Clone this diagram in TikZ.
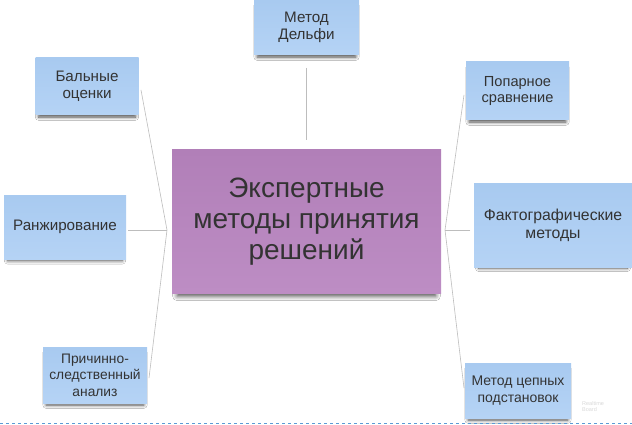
\documentclass[tikz,border=0pt]{standalone}
\usepackage{fontspec}
\setmainfont{Liberation Sans}
\usetikzlibrary{shadows.blur}
\definecolor{stickblue}{HTML}{A8CAF0}
\definecolor{stickblue2}{HTML}{B5D3F5}
\definecolor{stickpurple}{HTML}{B17FB8}
\definecolor{stickpurple2}{HTML}{BD8DC4}
\definecolor{txtgray}{HTML}{333333}
\definecolor{linegray}{HTML}{BDBDBD}
\definecolor{dashblue}{HTML}{5B9BD5}
\tikzset{
  stick/.style={rectangle, inner sep=0pt, align=center, text=txtgray,
    top color=stickblue, bottom color=stickblue2,
    font=\fontsize{15.2}{17.2}\selectfont,
    blur shadow={shadow xshift=0pt, shadow yshift=-4pt, shadow scale=0.94, shadow opacity=70, shadow blur radius=3.5pt, shadow blur steps=6}},
  central/.style={rectangle, inner sep=0pt, align=center, text=txtgray,
    top color=stickpurple, bottom color=stickpurple2,
    font=\fontsize{28}{31}\selectfont,
    blur shadow={shadow xshift=0pt, shadow yshift=-6pt, shadow scale=0.96, shadow opacity=75, shadow blur radius=5pt, shadow blur steps=7}},
  conn/.style={draw=linegray, line width=0.6pt}
}
\begin{document}
\begin{tikzpicture}[x=1pt,y=-1pt]
\useasboundingbox (0,0) rectangle (632,425);
\fill[white] (0,0) rectangle (632,425);
% connectors
\coordinate (lh) at (167,230);
\coordinate (rh) at (445,230);
\coordinate (ctop) at (306,140);
\coordinate (dbot) at (306,68);
\draw[conn] (dbot) -- (ctop);
\draw[conn] (141,90) -- (lh);
\draw[conn] (128,230) -- (lh);
\draw[conn] (149,378) -- (lh);
\draw[conn] (464,95) -- (rh);
\draw[conn] (470,230) -- (rh);
\draw[conn] (464,388) -- (rh);
% nodes
\node[central, minimum width=269pt, minimum height=143pt] (cen) at (306.5,221.5) {Экспертные\\методы принятия\\решений};
\node[stick, minimum width=105pt, minimum height=55pt] (del) at (306.5,27.5) {Метод\\Дельфи};
\node[stick, minimum width=103pt, minimum height=57pt] (bal) at (87,86.5) {Бальные\\оценки};
\node[stick, minimum width=103pt, minimum height=58pt, font=\fontsize{14.6}{16.8}\selectfont] (pop) at (517.5,91) {Попарное\\сравнение};
\node[stick, minimum width=122pt, minimum height=64pt] (ran) at (65,227) {Ранжирование};
\node[stick, minimum width=158pt, minimum height=84pt, font=\fontsize{15.8}{18}\selectfont] (fak) at (553,225) {Фактографические\\методы};
\node[stick, minimum width=104pt, minimum height=56pt, font=\fontsize{13.8}{16.6}\selectfont] (pri) at (95,375) {Причинно-\\следственный\\анализ};
\node[stick, minimum width=106pt, minimum height=55pt, font=\fontsize{14}{16.6}\selectfont] (cep) at (518,390.5) {Метод цепных\\подстановок};
\node[anchor=north west, inner sep=0pt, align=left, text=black!15, font=\fontsize{5.5}{6.5}\selectfont] (rb) at (582,401) {Realtime\\Board};
\draw[dashblue, dashed, line width=0.6pt] (0,423) -- (632,423);
\end{tikzpicture}
\end{document}
